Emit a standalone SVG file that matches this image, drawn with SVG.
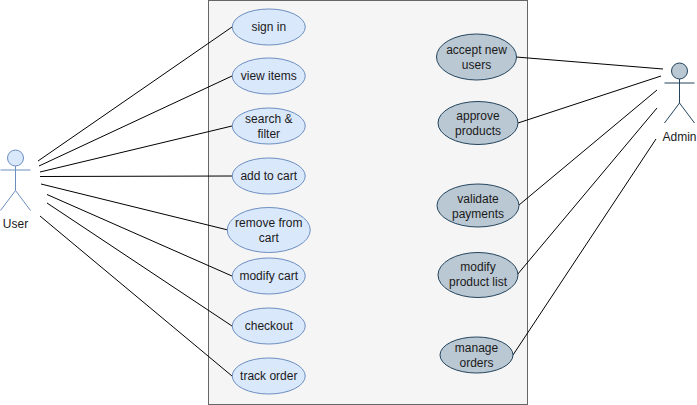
<svg xmlns="http://www.w3.org/2000/svg" width="697" height="405" viewBox="0 0 697 405">
<style>
text{font-family:"Liberation Sans",Arial,sans-serif;font-size:12px;fill:#1a1a1a;text-anchor:middle}
.u{fill:#dae8fc;stroke:#6c8ebf;stroke-width:1}
.a{fill:#bac8d3;stroke:#23445d;stroke-width:1}
.ul{fill:none;stroke:#6c8ebf;stroke-width:1}
.al{fill:none;stroke:#23445d;stroke-width:1}
#connectors line{stroke:#000;stroke-width:1}
</style>
<rect id="boundary" x="208.5" y="0.5" width="319" height="404" fill="#f5f5f5" stroke="#666666"/>
<g id="connectors">
<line x1="38" y1="161" x2="232" y2="27"/>
<line x1="39" y1="166" x2="232" y2="76"/>
<line x1="40" y1="172" x2="232" y2="126"/>
<line x1="40" y1="176.5" x2="232" y2="176"/>
<line x1="41" y1="184" x2="228" y2="230"/>
<line x1="47" y1="194.5" x2="232" y2="276"/>
<line x1="47" y1="203" x2="232" y2="326"/>
<line x1="40" y1="216" x2="232" y2="376"/>
<line x1="516" y1="57" x2="663" y2="69"/>
<line x1="518" y1="123" x2="661" y2="76"/>
<line x1="519" y1="205" x2="657" y2="90"/>
<line x1="517" y1="275" x2="657" y2="108"/>
<line x1="513" y1="355" x2="656" y2="139"/>
</g>
<g id="user">
<circle class="u" cx="15.5" cy="158" r="8"/>
<path class="ul" d="M15.5 166V190.500M0.500 170H30.500M0.500 210.500L15.500 190.500L30.500 210.500"/>
<text x="15.500" y="227.500">User</text>
</g>
<g id="admin">
<circle class="a" cx="679.500" cy="71" r="8"/>
<path class="al" d="M679.500 79V103M664.500 83H694.500M664.500 123L679.500 103L694.500 123"/>
<text x="679.500" y="140.500">Admin</text>
</g>
<g id="sign-in"><ellipse class="u" cx="268.750" cy="27" rx="36.500" ry="18"/><text x="268.750" y="31">sign in</text></g>
<g id="view-items"><ellipse class="u" cx="268.750" cy="76" rx="36.500" ry="18"/><text x="268.750" y="80">view items</text></g>
<g id="search-filter"><ellipse class="u" cx="268.750" cy="126" rx="36.500" ry="18"/><text x="268.750" y="123">search &amp;</text><text x="268.750" y="138">filter</text></g>
<g id="add-to-cart"><ellipse class="u" cx="268.750" cy="176" rx="36.500" ry="18"/><text x="268.750" y="180">add to cart</text></g>
<g id="remove-from-cart"><ellipse class="u" cx="268.750" cy="230" rx="41.500" ry="22.500"/><text x="268.750" y="227">remove from</text><text x="268.750" y="242">cart</text></g>
<g id="modify-cart"><ellipse class="u" cx="268.750" cy="276" rx="36.500" ry="18"/><text x="268.750" y="280">modify cart</text></g>
<g id="checkout"><ellipse class="u" cx="268.750" cy="326" rx="36.500" ry="18"/><text x="268.750" y="330">checkout</text></g>
<g id="track-order"><ellipse class="u" cx="268.750" cy="376" rx="36.500" ry="18"/><text x="268.750" y="380">track order</text></g>
<g id="accept-new-users"><ellipse class="a" cx="476.500" cy="57" rx="40" ry="23"/><text x="476.500" y="54">accept new</text><text x="476.500" y="69">users</text></g>
<g id="approve-products"><ellipse class="a" cx="478" cy="123" rx="40" ry="21.500"/><text x="478" y="120">approve</text><text x="478" y="135">products</text></g>
<g id="validate-payments"><ellipse class="a" cx="478" cy="205.500" rx="41" ry="21.500"/><text x="478" y="203">validate</text><text x="478" y="218">payments</text></g>
<g id="modify-product-list"><ellipse class="a" cx="478" cy="275" rx="40" ry="22.500"/><text x="478" y="271">modify</text><text x="478" y="286">product list</text></g>
<g id="manage-orders"><ellipse class="a" cx="476.500" cy="355" rx="36.500" ry="18"/><text x="476.500" y="352">manage</text><text x="476.500" y="367">orders</text></g>
</svg>
